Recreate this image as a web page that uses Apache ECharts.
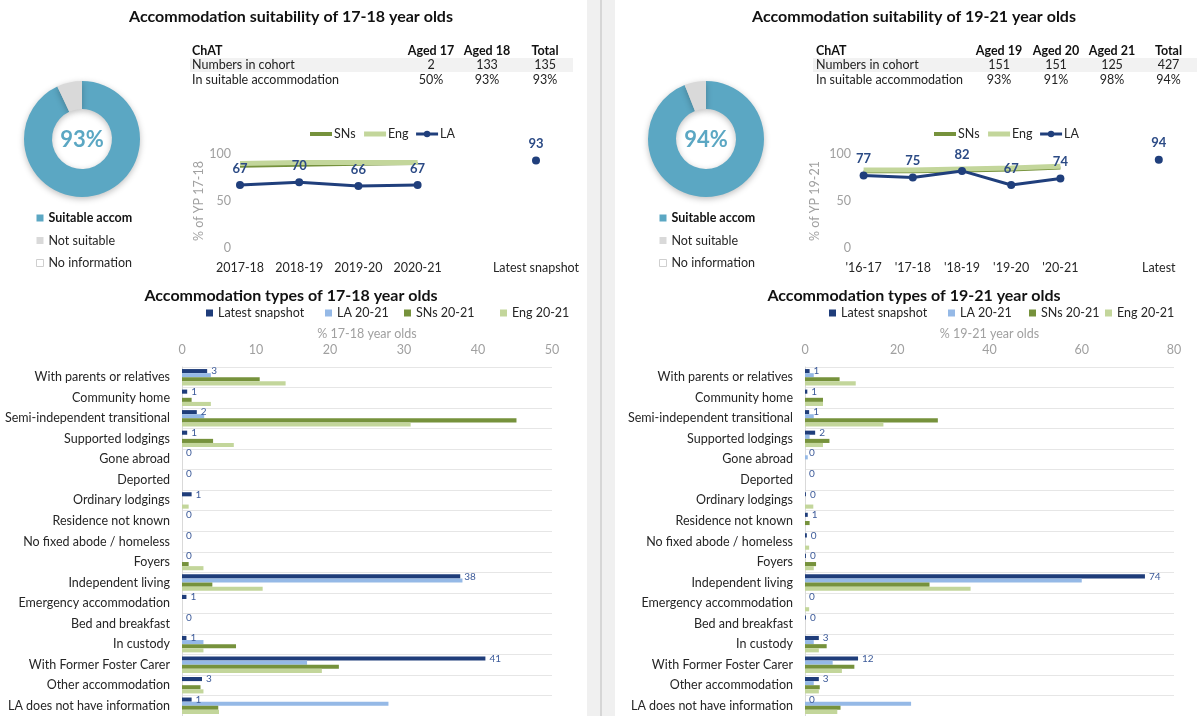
<!DOCTYPE html>
<html>
<head>
<meta charset="utf-8">
<script src="https://cdn.jsdelivr.net/npm/echarts@6/dist/echarts.min.js"></script>
<style>html,body{margin:0;padding:0;background:#fff}#c{width:1200px;height:716px}</style>
</head>
<body>
<div id="c"></div>
<script>
// ---------- DATA ----------
const barCats = ['With parents or relatives','Community home','Semi-independent transitional','Supported lodgings','Gone abroad','Deported','Ordinary lodgings','Residence not known','No fixed abode / homeless','Foyers','Independent living','Emergency accommodation','Bed and breakfast','In custody','With Former Foster Carer','Other accommodation','LA does not have information'];
const barSeriesNames = ['Latest snapshot','LA 20-21','SNs 20-21','Eng 20-21'];

const latest17 = [3.4,0.7,2.0,0.7,0,0,1.3,0,0,0,37.6,0.6,0,0.6,41.0,2.7,1.3];
const la17     = [3.9,0,3.0,0,0,0,0,0,0,0,37.9,0,0,2.9,16.9,0,27.9];
const sns17    = [10.5,1.3,45.2,4.2,0,0,0,0,0,0.9,4.1,0,0,7.3,21.2,2.5,4.9];
const eng17    = [14.0,3.9,30.9,7.0,0,0,0.9,0,0,2.9,10.9,0,0,2.9,18.9,2.9,5.0];

const latest19 = [1.0,0.5,0.9,2.2,0,0,0.2,0.6,0.4,0.2,73.7,0,0.2,3.0,11.5,3.0,0];
const la19     = [1.9,0,1.9,1.0,0.6,0,0,0,0,0,60.0,0,0,1.9,6.0,1.9,23.0];
const sns19    = [7.5,3.9,28.8,5.3,0,0,0,1.0,0,2.4,27.0,0,0,4.7,10.7,3.2,7.7];
const eng19    = [11.0,3.9,17.0,3.9,0,0,1.8,0,0.9,1.9,35.9,0.9,0,3.0,8.0,3.0,7.0];

const lineCats17 = ['2017-18','2018-19','2019-20','2020-21','','Latest snapshot'];
const laLine17   = [67,70,66,67,null,93];
const snsLine17  = [87,88,89,90];
const engLine17  = [90,91,91,91];

const lineCats19 = ["'16-17","'17-18","'18-19","'19-20","'20-21",'','Latest'];
const laLine19   = [77,75,82,67,74,null,94];
const snsLine19  = [81,81,82,83,85];
const engLine19  = [83,83,84,85,87];

const pieNames = ['Suitable accom','Not suitable','No information'];
const pie17 = [93,7,0];
const pie19 = [94,6,0];

const table17Head = ['ChAT','Aged 17','Aged 18','Total'];
const table17Rows = [['Numbers in cohort','2','133','135'],['In suitable accommodation','50%','93%','93%']];
const table19Head = ['ChAT','Aged 19','Aged 20','Aged 21','Total'];
const table19Rows = [['Numbers in cohort','151','151','125','427'],['In suitable accommodation','93%','91%','98%','94%']];

// ---------- STYLE ----------
const FONT = 'Lato';
const C_LATEST = '#1f3d7a', C_LA = '#95b9e6', C_SNS = '#76923c', C_ENG = '#c3d69b';
const C_LALINE = '#203f7c', C_PIE = '#5ba7c3', C_PIEGREY = '#d9d9d9';
const DARK = '#262626', GREY = '#a0a0a0';

const chart = echarts.init(document.getElementById('c'), null, {renderer:'canvas'});

function tableGraphics(head, rows, x0, centers, bgX, bgW) {
  const g = [];
  g.push({type:'rect', shape:{x:bgX, y:58, width:bgW, height:14}, style:{fill:'#f2f2f2'}, z:1});
  head.forEach((h,i)=>{
    g.push({type:'text', x: i===0 ? x0 : centers[i-1], y:51, z:2,
      style:{text:h, font:'bold 12.5px '+FONT, fill:'#111', textAlign: i===0?'left':'center', textVerticalAlign:'middle'}});
  });
  rows.forEach((r,ri)=>{
    r.forEach((v,i)=>{
      g.push({type:'text', x: i===0 ? x0 : centers[i-1], y: 65 + ri*14.5, z:2,
        style:{text:v, font:'12.5px '+FONT, fill:'#222', textAlign: i===0?'left':'center', textVerticalAlign:'middle'}});
    });
  });
  return g;
}

function titleText(t, x, y){
  return {type:'text', x:x, y:y, z:5, style:{text:t, font:'bold 16px '+FONT, fill:'#111', textAlign:'center', textVerticalAlign:'middle'}};
}

const graphics = [
  {type:'rect', shape:{x:587, y:0, width:28, height:716}, style:{fill:'#f0f0f0'}, z:0},
  {type:'rect', shape:{x:600, y:0, width:2, height:716}, style:{fill:'#d6d6d6'}, z:0},
  titleText('Accommodation suitability of 17-18 year olds', 291, 17),
  titleText('Accommodation suitability of 19-21 year olds', 914, 17),
  titleText('Accommodation types of 17-18 year olds', 291, 296),
  titleText('Accommodation types of 19-21 year olds', 914, 296),
  {type:'text', x:82, y:140, z:10, style:{text: pie17[0]+'%', font:'bold 22px '+FONT, fill:C_PIE, textAlign:'center', textVerticalAlign:'middle'}},
  {type:'text', x:706, y:140, z:10, style:{text: pie19[0]+'%', font:'bold 22px '+FONT, fill:C_PIE, textAlign:'center', textVerticalAlign:'middle'}},
  ...tableGraphics(table17Head, table17Rows, 192, [431,487,545], 190, 383),
  ...tableGraphics(table19Head, table19Rows, 816, [999,1056,1112,1168.5], 813, 384)
];

function pieSeries(name, vals, cx){
  return {
    type:'pie', name:name, center:[cx,139], radius:[30,58], startAngle:90, clockwise:true,
    label:{show:false}, labelLine:{show:false}, emphasis:{disabled:true}, silent:true,
    itemStyle:{shadowBlur:6, shadowColor:'rgba(0,0,0,0.25)', shadowOffsetY:2},
    data:[
      {name:pieNames[0], value:vals[0], itemStyle:{color:C_PIE}},
      {name:pieNames[1], value:vals[1], itemStyle:{color:C_PIEGREY}},
      {name:pieNames[2], value:vals[2], itemStyle:{color:'#ffffff'}}
    ]
  };
}

function pieLegend(left){
  return {
    orient:'vertical', left:left, top:206, itemWidth:7, itemHeight:7, itemGap:8.5, icon:'rect',
    selectedMode:false,
    textStyle:{fontFamily:FONT, fontSize:12.5, color:DARK, lineHeight:14},
    data:[
      {name:pieNames[0], textStyle:{fontWeight:'bold', color:'#111'}},
      {name:pieNames[1]},
      {name:pieNames[2], itemStyle:{color:'#fff', borderColor:'#cfcfcf', borderWidth:1}}
    ]
  };
}

function barLegend(name, left){
  return {data:[name], left:left, top:301, itemWidth:7, itemHeight:7, icon:'rect', selectedMode:false,
    textStyle:{fontFamily:FONT, fontSize:12.5, color:DARK, lineHeight:14}};
}

function lineLegend(left){
  return {data:[
      {name:'SNs', itemStyle:{opacity:0}, lineStyle:{width:4, color:C_SNS}},
      {name:'Eng', itemStyle:{opacity:0}, lineStyle:{width:5, color:C_ENG}},
      {name:'LA', lineStyle:{width:3, color:C_LALINE}}
    ], left:left, top:122, itemWidth:22, itemHeight:8, itemGap:6, selectedMode:false,
    textStyle:{fontFamily:FONT, fontSize:12.5, color:DARK, lineHeight:14, padding:[0,0,0,-3]}};
}

function barSeries(vals, name, color, xi, yi, withLabel){
  return {
    type:'bar', name:name, xAxisIndex:xi, yAxisIndex:yi, data:vals, barGap:'0%', barCategoryGap:'20%',
    itemStyle:{color:color}, silent:true,
    label: withLabel ? {show:true, position:'right', distance:4, fontFamily:FONT, fontSize:10, color:'#3c5a99',
      formatter:(p)=>String(Math.round(p.value))} : {show:false}
  };
}

function lineSeries(xi, yi, sns, eng, la){
  return [
    {type:'line', name:'SNs', xAxisIndex:xi, yAxisIndex:yi, data:sns, showSymbol:false, symbol:'none',
      lineStyle:{color:C_SNS, width:3}, itemStyle:{color:C_SNS}, silent:true, z:2},
    {type:'line', name:'Eng', xAxisIndex:xi, yAxisIndex:yi, data:eng, showSymbol:false, symbol:'none',
      lineStyle:{color:C_ENG, width:5}, itemStyle:{color:C_ENG}, silent:true, z:3},
    {type:'line', name:'LA', xAxisIndex:xi, yAxisIndex:yi, data:la, symbol:'circle', symbolSize:8, showSymbol:true,
      connectNulls:false, lineStyle:{color:C_LALINE, width:3}, itemStyle:{color:C_LALINE}, silent:true, z:4,
      label:{show:true, position:'top', distance:6, fontFamily:FONT, fontWeight:'bold', fontSize:13, color:'#2b4a85'}}
  ];
}

const catAxisLine = (cats, gi) => ({
  type:'category', gridIndex:gi, data:cats, axisLine:{show:false}, axisTick:{show:false},
  axisLabel:{interval:0, color:DARK, fontFamily:FONT, fontSize:12.5, margin:13}
});
const valAxisLine = (gi, off, nm, gap) => ({
  type:'value', gridIndex:gi, min:0, max:100, interval:50, offset:off, splitLine:{show:false},
  axisLine:{show:false}, axisTick:{show:false},
  axisLabel:{color:GREY, fontFamily:FONT, fontSize:12.5, margin:4},
  name:nm, nameLocation:'middle', nameGap:gap, nameRotate:90,
  nameTextStyle:{color:GREY, fontFamily:FONT, fontSize:12.5}
});
const valAxisBar = (gi, max, interval, nm) => ({
  type:'value', gridIndex:gi, position:'top', min:0, max:max, interval:interval,
  splitLine:{show:false}, axisLine:{show:false}, axisTick:{show:false},
  axisLabel:{color:GREY, fontFamily:FONT, fontSize:12.5, margin:11},
  name:nm, nameLocation:'middle', nameGap:27, nameTextStyle:{color:GREY, fontFamily:FONT, fontSize:12.5}
});
const catAxisBar = (gi) => ({
  type:'category', gridIndex:gi, data:barCats, inverse:true,
  axisLine:{show:true, lineStyle:{color:'#d9d9d9'}}, axisTick:{show:false},
  splitLine:{show:true, lineStyle:{color:'#e6e6e6', width:1}},
  axisLabel:{interval:0, color:DARK, fontFamily:FONT, fontSize:12.5, margin:12}
});

const option = {
  animation:false,
  backgroundColor:'#ffffff',
  textStyle:{fontFamily:FONT},
  graphic: graphics,
  grid:[
    {left:210.4, top:154, width:355.2, height:94},
    {left:839, top:154, width:344.4, height:94},
    {left:182, top:367, width:370, height:350},
    {left:805, top:367, width:369, height:350}
  ],
  xAxis:[
    catAxisLine(lineCats17, 0),
    catAxisLine(lineCats19, 1),
    valAxisBar(2, 50, 10, '% 17-18 year olds'),
    valAxisBar(3, 80, 20, '% 19-21 year olds')
  ],
  yAxis:[
    valAxisLine(0, -24.6, '% of YP 17-18', 30),
    valAxisLine(1, -16, '% of YP 19-21', 33.5),
    catAxisBar(2),
    catAxisBar(3)
  ],
  legend:[
    pieLegend(31), pieLegend(654),
    lineLegend(303), lineLegend(927),
    barLegend(barSeriesNames[0], 201), barLegend(barSeriesNames[1], 320),
    barLegend(barSeriesNames[2], 399), barLegend(barSeriesNames[3], 495),
    barLegend(barSeriesNames[0], 824), barLegend(barSeriesNames[1], 943),
    barLegend(barSeriesNames[2], 1024), barLegend(barSeriesNames[3], 1100)
  ],
  series:[
    pieSeries('Suitability 17-18', pie17, 82),
    pieSeries('Suitability 19-21', pie19, 706),
    ...lineSeries(0, 0, snsLine17, engLine17, laLine17),
    ...lineSeries(1, 1, snsLine19, engLine19, laLine19),
    barSeries(latest17, barSeriesNames[0], C_LATEST, 2, 2, true),
    barSeries(la17, barSeriesNames[1], C_LA, 2, 2, false),
    barSeries(sns17, barSeriesNames[2], C_SNS, 2, 2, false),
    barSeries(eng17, barSeriesNames[3], C_ENG, 2, 2, false),
    barSeries(latest19, barSeriesNames[0], C_LATEST, 3, 3, true),
    barSeries(la19, barSeriesNames[1], C_LA, 3, 3, false),
    barSeries(sns19, barSeriesNames[2], C_SNS, 3, 3, false),
    barSeries(eng19, barSeriesNames[3], C_ENG, 3, 3, false)
  ]
};
chart.setOption(option);
</script>
</body>
</html>
